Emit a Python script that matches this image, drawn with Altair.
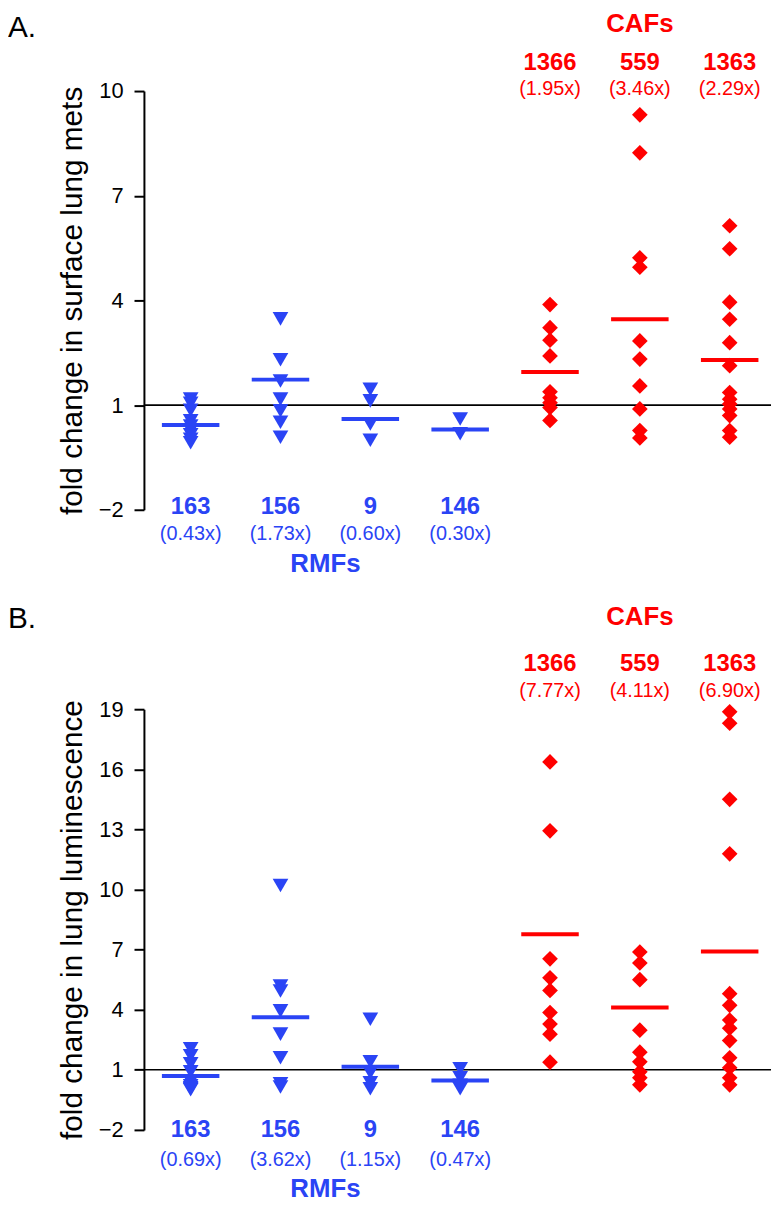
import altair as alt
import pandas as pd

BLUE = "#2a44f5"
RED = "#ff0000"

groups = ["163", "156", "9", "146", "1366", "559", "1363"]
kinds = ["RMF", "RMF", "RMF", "RMF", "CAF", "CAF", "CAF"]

# Panel A: fold change in surface lung mets
a_points = [
    [1.17, 1.05, 0.85, 0.55, 0.40, 0.28, 0.15, 0.02, -0.08],
    [3.47, 2.30, 1.69, 1.17, 0.84, 0.51, 0.08],
    [1.45, 1.12, 0.46, -0.01],
    [0.60, 0.18],
    [3.88, 3.22, 2.86, 2.41, 1.38, 1.21, 1.07, 0.93, 0.56],
    [9.32, 8.23, 5.22, 4.95, 2.84, 2.32, 1.55, 0.89, 0.27, 0.06],
    [6.14, 5.48, 3.95, 3.46, 2.79, 2.13, 1.36, 1.17, 1.03, 0.89, 0.70, 0.27, 0.08],
]
a_means = [0.43, 1.73, 0.60, 0.30, 1.95, 3.46, 2.29]
a_ticks = [-2, 1, 4, 7, 10]

# Panel B: fold change in lung luminescence
b_points = [
    [2.05, 1.70, 1.30, 0.90, 0.40, 0.20, 0.10, 0.05, 0.00],
    [10.20, 5.18, 4.93, 3.94, 2.78, 1.60, 0.30, 0.14],
    [3.52, 1.40, 0.85, 0.35, 0.05],
    [1.05, 0.60, 0.23, 0.05],
    [16.37, 12.93, 6.54, 5.59, 4.96, 3.86, 3.28, 2.78, 1.38],
    [6.88, 6.33, 5.50, 2.98, 1.88, 1.40, 0.90, 0.60, 0.25],
    [18.87, 18.30, 14.50, 11.78, 4.80, 4.22, 3.48, 3.08, 2.46, 1.60, 1.10, 0.60, 0.25],
]
b_means = [0.69, 3.62, 1.15, 0.47, 7.77, 4.11, 6.90]
b_ticks = [-2, 1, 4, 7, 10, 13, 16, 19]

W = 632
FONT = "Liberation Sans"


def build_panel(point_lists, means, ymax, ticks, ytitle, height, letter, top_pos, bottom_pos):
    rows = []
    for gi, vals in enumerate(point_lists):
        for v in vals:
            rows.append({"gi": gi, "group": groups[gi], "kind": kinds[gi], "value": v})
    pts = pd.DataFrame(rows)
    summ = pd.DataFrame({
        "gi": list(range(len(groups))),
        "group": groups,
        "kind": kinds,
        "mean": means,
        "label": [f"({m:.2f}x)" for m in means],
    })
    caf_center = summ[summ.kind == "CAF"].gi.mean()
    rmf_center = summ[summ.kind == "RMF"].gi.mean()
    heads = pd.DataFrame({"gi": [caf_center, rmf_center], "kind": ["CAF", "RMF"], "text": ["CAFs", "RMFs"]})

    xs = alt.Scale(domain=[-0.52, 6.46], nice=False, zero=False)
    ys = alt.Scale(domain=[-2, ymax], nice=False, zero=False)
    color = alt.Color("kind:N", scale=alt.Scale(domain=["RMF", "CAF"], range=[BLUE, RED]), legend=None)
    shape = alt.Shape("kind:N", scale=alt.Scale(domain=["RMF", "CAF"], range=["triangle-down", "diamond"]), legend=None)
    xq = alt.X("gi:Q", scale=xs, axis=None)

    points = alt.Chart(pts).mark_point(filled=True, size=250, opacity=1, strokeWidth=0).encode(
        x=xq,
        y=alt.Y("value:Q", scale=ys, title=ytitle,
                axis=alt.Axis(values=ticks, labelFontSize=22, titleFontSize=30, titleFontWeight="normal",
                              tickSize=10, tickWidth=2, domainWidth=2, labelPadding=11, titlePadding=11,
                              grid=False, domainColor="black", tickColor="black", labelColor="black",
                              titleColor="black", labelFont=FONT, titleFont=FONT)),
        color=color, shape=shape,
    )

    ref = alt.Chart(pd.DataFrame({"ref": [1]})).mark_rule(color="black", strokeWidth=1.6).encode(
        y=alt.Y("ref:Q", scale=ys), x=alt.value(0), x2=alt.value(W)
    )

    bars = alt.Chart(summ).transform_calculate(
        x0="datum.gi - 0.32", x1="datum.gi + 0.32"
    ).mark_rule(strokeWidth=4, strokeCap="butt").encode(
        x=alt.X("x0:Q", scale=xs, axis=None), x2="x1:Q",
        y=alt.Y("mean:Q", scale=ys), color=color,
    )

    caf_t = alt.Chart(summ[summ.kind == "CAF"])
    rmf_t = alt.Chart(summ[summ.kind == "RMF"])
    name_top = caf_t.mark_text(fontSize=24, fontWeight="bold", baseline="middle", font=FONT).encode(
        x=xq, y=alt.value(top_pos[1]), text="group:N", color=color)
    lab_top = caf_t.mark_text(fontSize=20, baseline="middle", font=FONT).encode(
        x=xq, y=alt.value(top_pos[2]), text="label:N", color=color)
    name_bot = rmf_t.mark_text(fontSize=24, fontWeight="bold", baseline="middle", font=FONT).encode(
        x=xq, y=alt.value(bottom_pos[0]), text="group:N", color=color)
    lab_bot = rmf_t.mark_text(fontSize=20, baseline="middle", font=FONT).encode(
        x=xq, y=alt.value(bottom_pos[1]), text="label:N", color=color)
    head_caf = alt.Chart(heads[heads.kind == "CAF"]).mark_text(fontSize=26, fontWeight="bold", baseline="top", font=FONT).encode(
        x=xq, y=alt.value(top_pos[0]), text="text:N", color=color)
    head_rmf = alt.Chart(heads[heads.kind == "RMF"]).mark_text(fontSize=26, fontWeight="bold", baseline="middle", font=FONT).encode(
        x=xq, y=alt.value(bottom_pos[2]), text="text:N", color=color)
    letter_t = alt.Chart(pd.DataFrame({"t": [letter]})).mark_text(
        fontSize=30, align="left", baseline="top", font=FONT, color="black").encode(
        x=alt.value(-137), y=alt.value(top_pos[3]), text="t:N")

    return alt.layer(ref, points, bars, name_top, lab_top, name_bot, lab_bot, head_caf, head_rmf, letter_t).properties(
        width=W, height=height)


panel_a = build_panel(a_points, a_means, 10, a_ticks, "fold change in surface lung mets", 422, "A.",
                      top_pos=(-81, -28, -2, -78), bottom_pos=(419, 446, 477))
panel_b = build_panel(b_points, b_means, 19, b_ticks, "fold change in lung luminescence", 424, "B.",
                      top_pos=(-106, -46, -18, -106), bottom_pos=(424, 454, 484))

chart = alt.vconcat(panel_a, panel_b, spacing=27).properties(
    padding={"left": 0, "top": -2, "right": 0, "bottom": 0}
).configure(font=FONT).configure_view(strokeWidth=0, stroke=None)

chart.save("out.html", embed_options={"renderer": "svg", "actions": False})
